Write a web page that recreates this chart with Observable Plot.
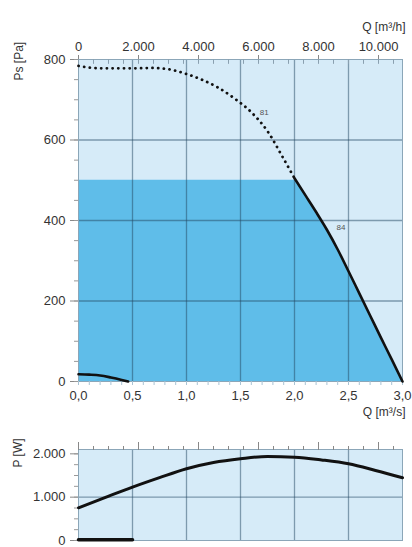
<!DOCTYPE html>
<html>
<head>
<meta charset="utf-8">
<script src="https://cdn.jsdelivr.net/npm/d3@7"></script>
<script src="https://cdn.jsdelivr.net/npm/@observablehq/plot@0.6"></script>
<style>
  html, body { margin: 0; padding: 0; background: #fff; }
  #chart svg { display: block; }
</style>
</head>
<body>
<div id="chart"></div>
<script>
// ---- Data ----
// Pressure curve 81 (dotted part, outside operating range)
const qDotted  = [0, 0.1, 0.25, 0.5, 0.7, 0.9, 1.0, 1.15, 1.3, 1.45, 1.6, 1.75, 1.9, 2.0];
const psDotted = [784, 780, 778, 778, 779, 772, 764, 749, 729, 702, 669, 622, 553, 505];
// Pressure curve 84 (solid part)
const qSolid  = [2.0, 2.1, 2.2, 2.3, 2.4, 2.5, 2.6, 2.7, 2.8, 2.9, 3.0];
const psSolid = [505, 463, 421, 377, 328, 274, 219, 164, 109, 55, 0];
// Low curve (bottom left)
const qLow  = [0, 0.1, 0.2, 0.3, 0.4, 0.46];
const psLow = [18, 17, 15, 10, 4, 0];
// Operating limit (shaded region cap)
const limitPa = 500;
// Power curve
const qPower = [0, 0.25, 0.5, 0.75, 1.0, 1.25, 1.5, 1.75, 2.0, 2.25, 2.5, 2.75, 3.0];
const pPower = [755, 995, 1231, 1450, 1656, 1800, 1887, 1940, 1924, 1860, 1771, 1617, 1448];
const qPowerLow = [0, 0.5];
const pPowerLow = [15, 15];
// Curve labels
const curveLabels = [{q: 1.72, p: 668, t: "81"}, {q: 2.43, p: 382, t: "84"}];
// Ticks
const qTicks = [0, 0.5, 1.0, 1.5, 2.0, 2.5, 3.0];
const qMinor = d3.range(0, 3.001, 0.1);
const qhMajor = [0, 2000, 4000, 6000, 8000, 10000];
const qhMinor = d3.range(0, 10801, 500);
const psTicks = [0, 200, 400, 600, 800];
const psMinor = d3.range(0, 801, 50);
const pTicks = [0, 1000, 2000];
const pMinor = d3.range(0, 2001, 250);

// ---- Styling ----
const light = "#d6ebf8";
const dark = "#5fbde9";
const gridC = "#234a63";
const fmtTh = n => d3.format(",")(n).replace(/,/g, ".");
const fmtDec = d => d.toFixed(1).replace(".", ",");
const font = "'Liberation Sans', Arial, sans-serif";

const dotted = qDotted.map((q, i) => ({q, p: psDotted[i]}));
const solid = qSolid.map((q, i) => ({q, p: psSolid[i]}));
const low = qLow.map((q, i) => ({q, p: psLow[i]}));
const shade = [{q: 0, p: limitPa}, ...solid.map(d => ({q: d.q, p: Math.min(limitPa, d.p)}))];
const power = qPower.map((q, i) => ({q, p: pPower[i]}));
const powerLow = qPowerLow.map((q, i) => ({q, p: pPowerLow[i]}));

const main = Plot.plot({
  width: 412, height: 425,
  marginLeft: 78, marginRight: 10, marginTop: 59, marginBottom: 44,
  style: {fontFamily: font, fontSize: "13px", color: "#333", background: "#fff", overflow: "visible"},
  x: {domain: [0, 3]},
  y: {domain: [0, 800]},
  marks: [
    Plot.frame({fill: light}),
    Plot.areaY(shade, {x: "q", y: "p", fill: dark, curve: "monotone-x"}),
    Plot.ruleX(qTicks.slice(1, -1), {stroke: gridC, strokeOpacity: 0.5, strokeWidth: 1.3}),
    Plot.ruleY(psTicks.slice(1, -1), {stroke: gridC, strokeOpacity: 0.5, strokeWidth: 1.3}),
    Plot.frame({stroke: "#8ba6b8"}),
    // left axis
    Plot.axisY({ticks: psTicks, tickSize: 8, tickPadding: 5, tickFormat: d => String(d), label: null, stroke: "#888", fontSize: 13}),
    Plot.axisY({ticks: psMinor, tickSize: 4, tickFormat: () => "", label: null, stroke: "#999"}),
    // bottom axis
    Plot.axisX({anchor: "bottom", ticks: qMinor, tickSize: 4, tickFormat: () => "", label: null, stroke: "#a9c3d4"}),
    Plot.axisX({anchor: "bottom", ticks: qTicks, tickSize: 0, tickPadding: 9, tickFormat: fmtDec, label: null, fontSize: 13}),
    // top axis (m³/h)
    Plot.axisX({anchor: "top", ticks: qhMajor.map(h => h / 3600), tickSize: 5, tickPadding: 4,
      tickFormat: d => fmtTh(Math.round(d * 3600)), label: null, stroke: "#888", fontSize: 13}),
    Plot.ruleX(qhMinor.map(h => h / 3600), {y1: 800, y2: 788, stroke: "#8aa0b0"}),
    // curves
    Plot.line(dotted, {x: "q", y: "p", stroke: "#111", strokeWidth: 2.8, strokeDasharray: "0.1 5.6", strokeLinecap: "round", curve: "monotone-x"}),
    Plot.line(solid, {x: "q", y: "p", stroke: "#111", strokeWidth: 2.6, curve: "monotone-x"}),
    Plot.line(low, {x: "q", y: "p", stroke: "#111", strokeWidth: 2.6, curve: "monotone-x"}),
    Plot.text(curveLabels, {x: "q", y: "p", text: "t", fontSize: 8, fill: "#555"}),
    // axis titles
    Plot.text(["Q [m³/h]"], {frameAnchor: "top-right", dx: 3, dy: -37, textAnchor: "end", fontSize: 12, fill: "#333"}),
    Plot.text(["Q [m³/s]"], {frameAnchor: "bottom-right", dx: 3, dy: 34, textAnchor: "end", fontSize: 12, fill: "#333"}),
    Plot.text(["Ps [Pa]"], {frameAnchor: "top-left", dx: -64, dy: 21, rotate: -90, fontSize: 12, fill: "#333"})
  ]
});

const pw = Plot.plot({
  width: 412, height: 122,
  marginLeft: 78, marginRight: 10, marginTop: 24, marginBottom: 7,
  style: {fontFamily: font, fontSize: "13px", color: "#333", background: "#fff", overflow: "visible"},
  x: {domain: [0, 3]},
  y: {domain: [0, 2100]},
  marks: [
    Plot.frame({fill: light}),
    Plot.ruleX(qTicks.slice(1, -1), {stroke: gridC, strokeOpacity: 0.5, strokeWidth: 1.3}),
    Plot.ruleY([1000], {stroke: gridC, strokeOpacity: 0.5, strokeWidth: 1.3}),
    Plot.frame({stroke: "#8ba6b8"}),
    Plot.axisY({ticks: pTicks, tickSize: 8, tickPadding: 5, tickFormat: fmtTh, label: null, stroke: "#888", fontSize: 13}),
    Plot.axisY({ticks: pMinor, tickSize: 4, tickFormat: () => "", label: null, stroke: "#999"}),
    Plot.axisX({anchor: "top", ticks: qhMinor.map(h => h / 3600), tickSize: 4, tickFormat: () => "", label: null, stroke: "#888"}),
    Plot.axisX({anchor: "top", ticks: qhMajor.map(h => h / 3600), tickSize: 8, tickFormat: () => "", label: null, stroke: "#888"}),
    Plot.line(power, {x: "q", y: "p", stroke: "#111", strokeWidth: 3, curve: "monotone-x"}),
    Plot.line(powerLow, {x: "q", y: "p", stroke: "#111", strokeWidth: 3.5}),
    Plot.text(["P [W]"], {frameAnchor: "top-left", dx: -65, dy: 18, rotate: -90, fontSize: 12, fill: "#333"})
  ]
});

document.getElementById("chart").append(main, pw);
</script>
</body>
</html>
